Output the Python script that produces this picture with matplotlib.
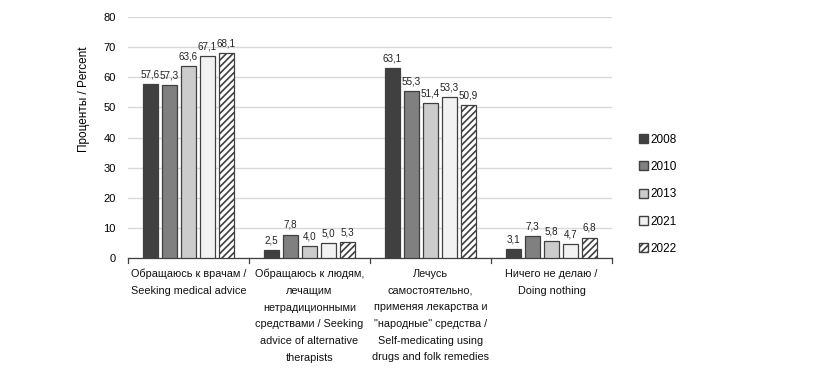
import numpy as np
import matplotlib
matplotlib.use("Agg")
import matplotlib.pyplot as plt
from matplotlib.patches import Patch

plt.rcParams['font.family'] = ['Liberation Sans', 'DejaVu Sans']
plt.rcParams['hatch.color'] = '#404040'
plt.rcParams['hatch.linewidth'] = 1.2

# --- data ---
categories = [
    "Обращаюсь к врачам /\nSeeking medical advice",
    "Обращаюсь к людям,\nлечащим\nнетрадиционными\nсредствами / Seeking\nadvice of alternative\ntherapists",
    "Лечусь\nсамостоятельно,\nприменяя лекарства и\n\"народные\" средства /\nSelf-medicating using\ndrugs and folk remedies",
    "Ничего не делаю /\nDoing nothing",
]
years = ["2008", "2010", "2013", "2021", "2022"]
v2008 = [57.6, 2.5, 63.1, 3.1]
v2010 = [57.3, 7.8, 55.3, 7.3]
v2013 = [63.6, 4.0, 51.4, 5.8]
v2021 = [67.1, 5.0, 53.3, 4.7]
v2022 = [68.1, 5.3, 50.9, 6.8]
series = [v2008, v2010, v2013, v2021, v2022]

colors = ["#404040", "#808080", "#cccccc", "#f2f2f2", "white"]
hatches = [None, None, None, None, "/////"]

fig = plt.figure(figsize=(8.38, 3.77), dpi=100)
ax = fig.add_axes([128 / 838, 1 - 258 / 377, (612 - 128) / 838, (258 - 17) / 377])

x = np.arange(len(categories))
bw = 0.118
step = 0.157
for i, (vals, c, h) in enumerate(zip(series, colors, hatches)):
    pos = x + (i - 2) * step
    ax.bar(pos, vals, bw, color=c, edgecolor="#404040", linewidth=0.9,
           hatch=h, label=years[i], zorder=3)
    for p, v in zip(pos, vals):
        ax.text(p, v + 1.5, f"{v:.1f}".replace(".", ","), ha="center",
                va="bottom", fontsize=7.1, color="#222222")

ax.set_xlim(-0.5, len(categories) - 0.5)
ax.set_ylim(0, 80)
ax.set_yticks(range(0, 81, 10))
ax.tick_params(axis="y", length=0, labelsize=8, pad=9)
ax.yaxis.grid(True, color="#d9d9d9", linewidth=1, zorder=0)
ax.set_xticks([])
for k in range(len(categories) + 1):
    ax.plot([k - 0.5, k - 0.5], [0, -1.6], color="#404040", lw=0.9,
            clip_on=False)
for s in ["top", "right", "left"]:
    ax.spines[s].set_visible(False)
ax.spines["bottom"].set_color("#404040")
ax.spines["bottom"].set_linewidth(0.9)

for k, lab in enumerate(categories):
    ax.text(k, -3.6, lab, ha="center", va="top", fontsize=7.8,
            linespacing=1.84, color="#111111")

ax.set_ylabel("Проценты / Percent", fontsize=8.5)
ax.yaxis.set_label_coords(-0.078, 0.66)

handles = [Patch(facecolor=c, edgecolor="#404040", hatch=h, label=y)
           for c, h, y in zip(colors, hatches, years)]
fig.legend(handles=handles, loc="upper left", bbox_to_anchor=(628 / 838, 1 - 123 / 377),
           frameon=False, fontsize=8.5, handlelength=0.8, handleheight=0.8,
           handletextpad=0.2, labelspacing=1.3)

fig.savefig("out.png", dpi=100)
